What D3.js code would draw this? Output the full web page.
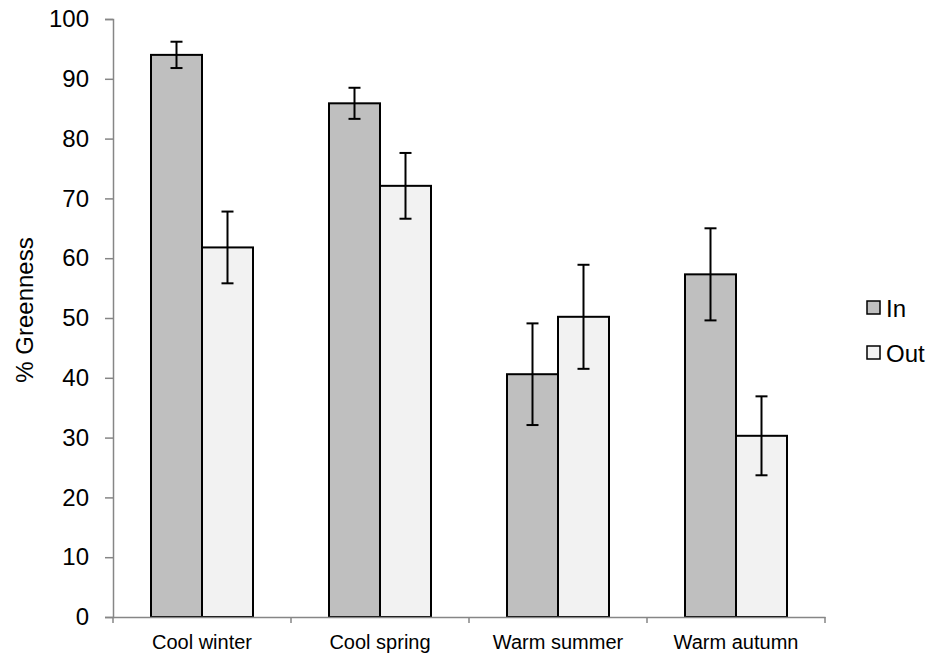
<!DOCTYPE html>
<html>
<head>
    <script src="https://d3js.org/d3.v7.min.js"></script>
    <style>
        body { margin: 0; background: #fff; }
        svg { font-family: Arial, "Liberation Sans", sans-serif; }
        .axis path, .axis line { stroke: #868686; stroke-width: 1.5px; }
        .axis text { fill: #000; }
    </style>
</head>
<body>
    <svg width="937" height="660"></svg>
    <script>
        // data
        var categories = ["Cool winter", "Cool spring", "Warm summer", "Warm autumn"];
        var series = ["In", "Out"];
        var inValues = [94.0, 85.9, 40.6, 57.3];
        var inErrors = [2.2, 2.6, 8.5, 7.7];
        var outValues = [61.8, 72.1, 50.2, 30.3];
        var outErrors = [6.0, 5.5, 8.7, 6.6];
        var yTicks = [0, 10, 20, 30, 40, 50, 60, 70, 80, 90, 100];

        var colors = {In: "#bfbfbf", Out: "#f2f2f2"};

        var svg = d3.select("svg"),
            margin = {top: 19, right: 112, bottom: 43, left: 113},
            width = +svg.attr("width") - margin.left - margin.right,
            height = +svg.attr("height") - margin.top - margin.bottom;

        var rows = categories.map(function(c, i) {
            return {
                cat: c,
                vals: [
                    {key: "In", value: inValues[i], err: inErrors[i]},
                    {key: "Out", value: outValues[i], err: outErrors[i]}
                ]
            };
        });

        var barWidth = 51;

        var x0 = d3.scaleBand().domain(categories).range([0, width]);
        var x1 = d3.scaleBand().domain(series)
            .range([(x0.bandwidth() - 2 * barWidth) / 2, (x0.bandwidth() + 2 * barWidth) / 2]);
        var y = d3.scaleLinear().domain([0, 100]).range([height, 0]);

        var g = svg.append("g")
            .attr("transform", "translate(" + margin.left + "," + margin.top + ")");

        // y axis
        var yAxis = g.append("g")
            .attr("class", "axis axis--y")
            .call(d3.axisLeft(y).tickValues(yTicks).tickSize(8).tickPadding(16));
        yAxis.selectAll("text").style("font-size", "24px");

        // bars
        var groups = g.selectAll(".group")
            .data(rows)
            .enter().append("g")
            .attr("class", "group")
            .attr("transform", function(d) { return "translate(" + x0(d.cat) + ",0)"; });

        groups.selectAll("rect")
            .data(function(d) { return d.vals; })
            .enter().append("rect")
            .attr("x", function(d) { return x1(d.key); })
            .attr("y", function(d) { return y(d.value); })
            .attr("width", x1.bandwidth())
            .attr("height", function(d) { return y(0) - y(d.value); })
            .attr("fill", function(d) { return colors[d.key]; })
            .attr("stroke", "#000")
            .attr("stroke-width", 2);

        // error bars
        var err = groups.selectAll(".err")
            .data(function(d) { return d.vals; })
            .enter().append("g")
            .attr("class", "err")
            .attr("stroke", "#000")
            .attr("stroke-width", 2);
        err.append("line")
            .attr("x1", function(d) { return x1(d.key) + x1.bandwidth() / 2; })
            .attr("x2", function(d) { return x1(d.key) + x1.bandwidth() / 2; })
            .attr("y1", function(d) { return y(d.value + d.err); })
            .attr("y2", function(d) { return y(d.value - d.err); });
        [1, -1].forEach(function(s) {
            err.append("line")
                .attr("x1", function(d) { return x1(d.key) + x1.bandwidth() / 2 - 6; })
                .attr("x2", function(d) { return x1(d.key) + x1.bandwidth() / 2 + 6; })
                .attr("y1", function(d) { return y(d.value + s * d.err); })
                .attr("y2", function(d) { return y(d.value + s * d.err); });
        });

        // x axis, labels in the band centres, ticks at the band edges
        var xAxis = g.append("g")
            .attr("class", "axis axis--x")
            .attr("transform", "translate(0," + height + ")")
            .call(d3.axisBottom(x0).tickSize(0).tickPadding(18));
        xAxis.selectAll("text").style("font-size", "20px");
        xAxis.selectAll(".edge")
            .data(categories.map(function(c) { return x0(c); }).concat([width]))
            .enter().append("line")
            .attr("class", "edge")
            .attr("x1", function(d) { return d; })
            .attr("x2", function(d) { return d; })
            .attr("y1", 0)
            .attr("y2", 6);

        // legend
        var legend = svg.append("g")
            .attr("transform", "translate(867,301)");
        var item = legend.selectAll(".item")
            .data(series)
            .enter().append("g")
            .attr("class", "item")
            .attr("transform", function(d, i) { return "translate(0," + i * 45 + ")"; });
        item.append("rect")
            .attr("width", 13)
            .attr("height", 13)
            .attr("fill", function(d) { return colors[d]; })
            .attr("stroke", "#000")
            .attr("stroke-width", 1.5);
        item.append("text")
            .attr("x", 19)
            .attr("y", 16)
            .style("font-size", "24px")
            .text(function(d) { return d; });

        // y title
        svg.append("text")
            .attr("transform", "translate(33,310) rotate(-90)")
            .attr("text-anchor", "middle")
            .style("font-size", "24px")
            .text("% Greenness");
    </script>
</body>
</html>
